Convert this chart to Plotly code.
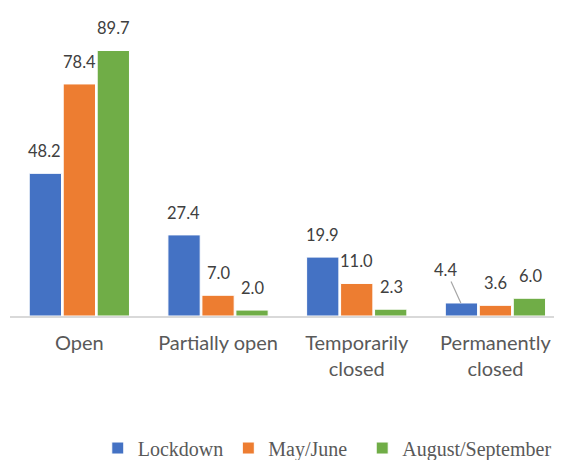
import plotly.graph_objects as go

categories = ["Open", "Partially open", "Temporarily<br>closed", "Permanently<br>closed"]
series_names = ["Lockdown", "May/June\u00a0\u00a0", "August/September"]
lockdown = [48.2, 27.4, 19.9, 4.4]
may_june = [78.4, 7.0, 11.0, 3.6]
aug_sep = [89.7, 2.0, 2.3, 6.0]
colors = ["#4472C4", "#ED7D31", "#70AD47"]

all_values = [lockdown, may_june, aug_sep]
slot = 34.6  # px per bar slot

fig = go.Figure()
for name, vals, col in zip(series_names, all_values, colors):
    fig.add_trace(go.Bar(
        x=categories, y=vals, name=name,
        marker=dict(color=col, line=dict(color="white", width=1)),
    ))

annotations = []
for si, vals in enumerate(all_values):
    for ci, v in enumerate(vals):
        xs = (si - 1) * slot
        a = dict(x=categories[ci], y=v, xref="x", yref="y",
                 text=f"{v:.1f}", font=dict(family="Lato", size=16.5, color="#404040"),
                 xshift=xs)
        if si == 0 and ci == 3:
            a.update(showarrow=True, arrowhead=0, arrowwidth=1.2, arrowcolor="#A6A6A6",
                     ax=-15, ay=-33, standoff=0)
        else:
            a.update(showarrow=False, yanchor="middle", yshift=22)
        annotations.append(a)

# page body has an 8px margin; the figure is sized/shifted to compensate
fig.update_layout(
    width=554, height=452,
    margin=dict(l=2, r=0, t=12, b=144, autoexpand=False),
    paper_bgcolor="white", plot_bgcolor="white",
    barmode="group", bargap=0.265, bargroupgap=0.05,
    annotations=annotations,
    showlegend=True,
    legend=dict(orientation="h", x=0.159, xanchor="left", y=-0.446, yanchor="middle",
                font=dict(family="Liberation Serif", size=20, color="#595959"),
                itemwidth=30, traceorder="normal"),
    xaxis=dict(range=[-0.5, 3.48], showline=True, linecolor="#D9D9D9", linewidth=1.5,
               showgrid=False, ticks="", ticklabelstandoff=8, automargin=False,
               tickfont=dict(family="Lato", size=20, color="#595959")),
    yaxis=dict(range=[0, 100], visible=False, showgrid=False, zeroline=False, automargin=False),
)

fig.write_html("out.html")
